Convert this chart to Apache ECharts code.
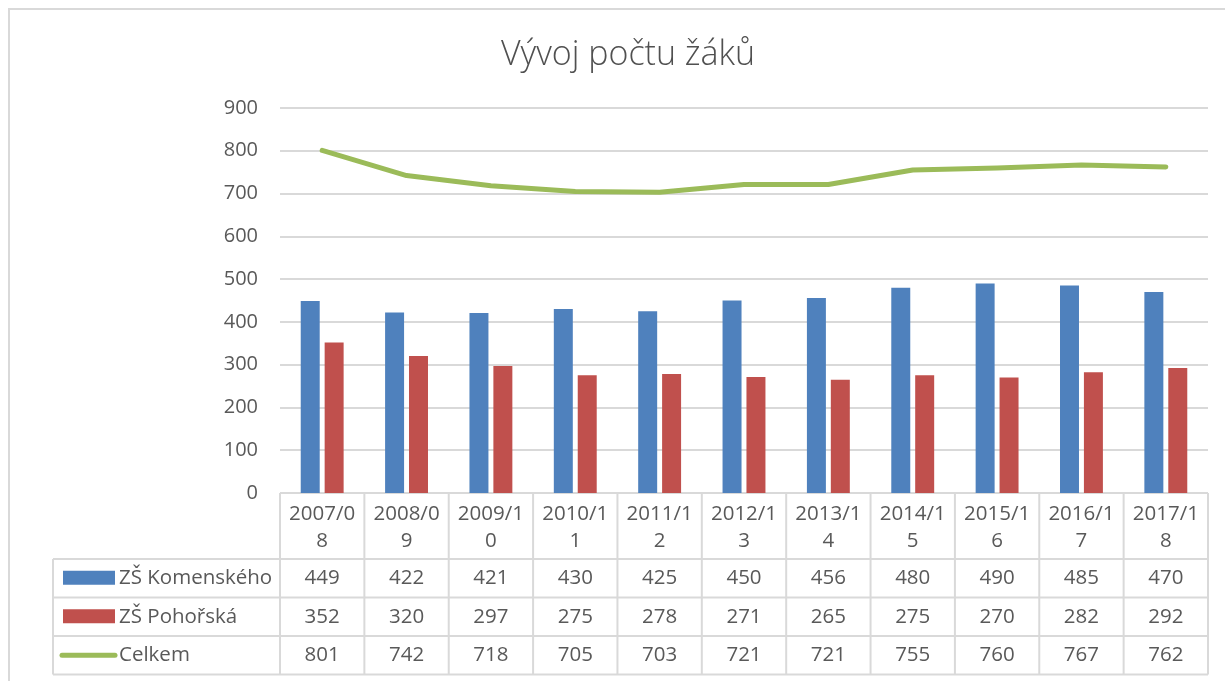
<!DOCTYPE html>
<html>
<head>
<meta charset="utf-8">
<script src="https://cdn.jsdelivr.net/npm/echarts@6/dist/echarts.min.js"></script>
<style>
  html, body { margin: 0; padding: 0; background: #fff; }
  #chart { width: 1225px; height: 681px; }
</style>
</head>
<body>
<div id="chart"></div>
<script>
// data
const categories = ['2007/08', '2008/09', '2009/10', '2010/11', '2011/12', '2012/13',
  '2013/14', '2014/15', '2015/16', '2016/17', '2017/18'];
const komenskeho = [449, 422, 421, 430, 425, 450, 456, 480, 490, 485, 470];
const pohorska = [352, 320, 297, 275, 278, 271, 265, 275, 270, 282, 292];
const celkem = [801, 742, 718, 705, 703, 721, 721, 755, 760, 767, 762];
const seriesNames = ['ZŠ Komenského', 'ZŠ Pohořská', 'Celkem'];

const colors = ['#4F81BD', '#C0504D', '#9BBB59'];
const textColor = '#595959';
const lineColor = '#D9D9D9';
const font = "'Open Sans', 'Noto Sans', sans-serif";

const chart = echarts.init(document.getElementById('chart'));

chart.setOption({
  animation: false,
  title: {
    text: 'Vývoj počtu žáků',
    left: 623,
    top: 33,
    textAlign: 'center',
    textStyle: { fontFamily: font, fontWeight: 300, fontSize: 34, color: '#505050' }
  },
  grid: { left: 280, right: 17, top: 108, bottom: 188 },
  xAxis: {
    type: 'category',
    data: categories,
    axisLine: { show: false },
    axisTick: { show: false },
    axisLabel: { show: false }
  },
  yAxis: {
    type: 'value',
    min: 0,
    max: 900,
    interval: 100,
    axisLine: { show: false },
    axisTick: { show: false },
    axisLabel: { color: textColor, fontFamily: font, fontSize: 20, margin: 22 },
    splitLine: { lineStyle: { color: lineColor, width: 2 } }
  },
  series: [
    {
      name: seriesNames[0], type: 'bar', data: komenskeho,
      barWidth: '22.5%', barGap: '26%',
      itemStyle: { color: colors[0] }
    },
    {
      name: seriesNames[1], type: 'bar', data: pohorska,
      barWidth: '22.5%', barGap: '26%',
      itemStyle: { color: colors[1] }
    },
    {
      name: seriesNames[2], type: 'line', data: celkem,
      showSymbol: false, symbol: 'none',
      lineStyle: { color: colors[2], width: 5, cap: 'round', join: 'round' },
      itemStyle: { color: colors[2] },
      z: 5
    }
  ]
});

// data table under the plot, placed from the axis scale
function buildTable() {
  const y0 = chart.convertToPixel({ yAxisIndex: 0 }, 0);
  const x0 = chart.convertToPixel({ xAxisIndex: 0 }, 0);
  const x1 = chart.convertToPixel({ xAxisIndex: 0 }, 1);
  const step = x1 - x0;
  const left = x0 - step / 2;
  const right = left + step * categories.length;
  const legendLeft = 53;
  const headerBottom = y0 + 66;
  const rowH = 38.5;
  const rows = [komenskeho, pohorska, celkem];
  const els = [];
  const line = (xa, ya, xb, yb) => els.push({
    type: 'line', shape: { x1: xa, y1: ya, x2: xb, y2: yb },
    style: { stroke: lineColor, lineWidth: 2 }, silent: true
  });
  const txt = (x, y, s, align) => els.push({
    type: 'text', x: x, y: y,
    style: { text: s, fill: textColor, font: '20.5px ' + font, align: align || 'center', verticalAlign: 'middle' },
    silent: true
  });

  // outer frame of the chart
  els.push({ type: 'rect', shape: { x: 9, y: 9, width: 1240, height: 700 },
    style: { fill: null, stroke: lineColor, lineWidth: 2 }, silent: true });

  // horizontal rules
  line(left, y0, right, y0);
  for (let r = 0; r <= rows.length; r++) {
    const y = headerBottom + r * rowH;
    line(legendLeft, y, right, y);
  }
  const bottom = headerBottom + rows.length * rowH;
  // vertical rules
  line(legendLeft, headerBottom, legendLeft, bottom);
  for (let i = 0; i <= categories.length; i++) {
    const x = left + i * step;
    line(x, y0, x, bottom);
  }
  // header: wrapped category labels
  categories.forEach((c, i) => {
    const cx = left + (i + 0.5) * step;
    txt(cx, y0 + 21, c.slice(0, 6));
    txt(cx, y0 + 48, c.slice(6));
  });
  // value rows
  rows.forEach((vals, r) => {
    const cy = headerBottom + (r + 0.5) * rowH;
    vals.forEach((v, i) => txt(left + (i + 0.5) * step, cy, String(v)));
    // legend key
    if (r < 2) {
      els.push({ type: 'rect', shape: { x: 63, y: cy - 7.5, width: 52, height: 14 },
        style: { fill: colors[r] }, silent: true });
    } else {
      els.push({ type: 'line', shape: { x1: 62, y1: cy, x2: 115, y2: cy },
        style: { stroke: colors[r], lineWidth: 5, lineCap: 'round' }, silent: true });
    }
    txt(119, cy, seriesNames[r], 'left');
  });
  chart.setOption({ graphic: els });
}
buildTable();
</script>
</body>
</html>
